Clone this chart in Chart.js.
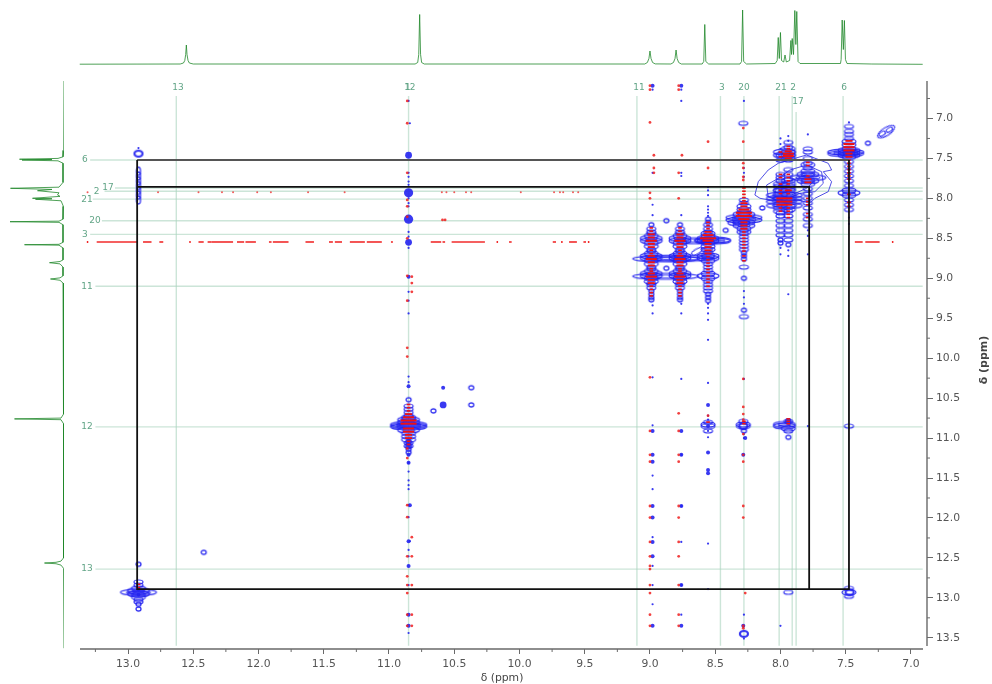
<!DOCTYPE html>
<html><head><meta charset="utf-8">
<script src="https://cdn.jsdelivr.net/npm/chart.js@4"></script>
<style>html,body{margin:0;padding:0;background:#fff}canvas{position:absolute;left:0;top:0}</style>
</head><body>
<canvas id="top" width="992" height="684"></canvas>
<canvas id="left" width="992" height="684"></canvas>
<canvas id="main" width="992" height="684"></canvas>
<script>
// ---------- axis ticks ----------
const xMajor=[7,7.5,8,8.5,9,9.5,10,10.5,11,11.5,12,12.5,13];
const xMinor=[7.25,7.75,8.25,8.75,9.25,9.75,10.25,10.75,11.25,11.75,12.25,12.75,13.25];
const yMajor=[7,7.5,8,8.5,9,9.5,10,10.5,11,11.5,12,12.5,13,13.5];
const yMinor=[6.75,7.25,7.75,8.25,8.75,9.25,9.75,10.25,10.75,11.25,11.75,12.25,12.75,13.25];
// ---------- 1D projections ----------
const topSpectrum=[[13.37,.3],[12.6,.5],[12.575,1.5],[12.565,4],[12.558,10],[12.553,19.5],[12.548,10],[12.54,4],[12.53,1.5],[12.5,.5],[10.8,.5],[10.78,2],[10.772,10],[10.765,50],[10.758,10],[10.75,2],[10.73,.5],[9.04,.5],[9.02,2],[9.008,6],[9,13.5],[8.992,6],[8.98,2],[8.96,.6],[8.84,.5],[8.82,2],[8.808,6],[8.8,14.5],[8.792,6],[8.78,2],[8.76,.5],[8.6,.5],[8.588,3],[8.58,40],[8.572,3],[8.55,.5],[8.31,.5],[8.298,3],[8.29,54.5],[8.282,3],[8.26,.5],[8.04,1],[8.025,4],[8.017,27],[8.009,6],[8,32],[7.992,4],[7.975,2.5],[7.965,9.5],[7.955,2.5],[7.93,4],[7.92,24],[7.915,10],[7.91,26],[7.9,10],[7.89,54],[7.882,20],[7.875,53],[7.865,3],[7.85,1],[7.54,1],[7.535,5],[7.527,44.5],[7.518,15],[7.51,44],[7.502,5],[7.49,1],[7.3,.5],[6.91,.2]];
const leftSpectrum=[[6.53,0],[7.4,.3],[7.48,1],[7.5,6],[7.51,44.5],[7.515,12],[7.52,42],[7.53,6],[7.56,1],[7.8,1],[7.86,5],[7.874,53.5],[7.888,12],[7.904,26.5],[7.93,5],[7.957,6.5],[7.975,4],[7.999,31.5],[8.005,12],[8.011,28.5],[8.03,3],[8.1,.6],[8.26,1],[8.285,5],[8.292,54],[8.3,5],[8.33,1],[8.55,1],[8.575,5],[8.58,39.5],[8.586,5],[8.62,1],[8.77,1],[8.79,4],[8.805,14.5],[8.82,4],[8.86,1],[8.97,1],[8.995,4],[9.009,13.5],[9.025,4],[9.06,1],[10.7,.5],[10.75,3],[10.76,49.5],[10.77,3],[10.82,.5],[12.5,.5],[12.54,3],[12.555,8],[12.564,19.5],[12.573,8],[12.59,3],[12.63,.5],[13.63,0]];
// ---------- assignment guides ----------
const vGuideX=[12.63,10.85,9.10,8.46,8.28,8.01,7.91,7.88,7.52];
const vGuideStart=[6.72,6.72,6.72,6.72,6.72,6.72,6.72,6.92,6.72];
const hGuideY=[7.52,7.87,7.91,8.01,8.28,8.45,9.10,10.86,12.64];
const hGuideStart=[13.29,13.10,13.18,13.27,13.20,13.29,13.25,13.25,13.25];
const guideEndY=13.60, guideEndX=6.91;
const vLabels=[['13',12.617,6.62],['12',10.84,6.62],['1',10.855,6.62],['11',9.085,6.62],['3',8.45,6.62],['20',8.28,6.62],['21',7.996,6.62],['2',7.904,6.62],['17',7.866,6.793],['6',7.513,6.62]];
const hLabels=[['6',13.33,7.51],['17',13.153,7.87],['2',13.24,7.91],['21',13.314,8.01],['20',13.253,8.28],['3',13.33,8.45],['11',13.314,9.10],['12',13.314,10.86],['13',13.314,12.64]];
// ---------- black correlation lines ----------
const darkLine=[[12.93,7.52],[7.475,7.52]];
const blackLineA=[[12.93,7.855],[7.78,7.855],[7.78,12.89]];
const blackLineB=[[12.93,7.52],[12.93,12.89],[7.475,12.89],[7.475,7.52]];
// ---------- t1 noise streaks: [from, to] in F2 ppm ----------
const streak854=[[13.24,12.93],[12.885,12.82],[12.76,12.73],[12.46,12.42],[12.39,12.36],[12.36,12.195],[12.165,12.11],[12.10,12.02],[11.92,11.90],[11.89,11.77],[11.64,11.575],[11.46,11.43],[11.415,11.36],[11.30,11.185],[11.17,11.055],[10.985,10.97],[10.68,10.60],[10.59,10.57],[10.52,10.265],[10.08,10.06],[9.745,9.72],[9.62,9.56],[9.51,9.49],[7.43,7.37],[7.35,7.24]];
const streak854Dots=[13.31,12.525,10.17,9.675,9.47,7.14];
const streak792Dots=[13.31,12.77,12.46,12.28,12.195,12.01,11.905,11.62,11.34,10.595,10.56,10.50,10.41,10.37,9.99,9.735,9.69,9.665,9.59,9.55];
// ---------- red contour dashes: [F2, [F1...]] ----------
const redWide=[[8.555,[8.50]],[8.28,[8.18,8.22]],[7.97,[8.0,8.04,8.08]],[10.85,[10.78,10.82]]];
const redLong=[[8.99,[8.53,8.76,8.98]],[8.77,[8.53,8.76,8.98]],[8.555,[8.46,8.53]],[8.28,[8.14,8.26]],[7.94,[7.44,7.47]],[7.475,[7.32,7.36,7.40]],[10.85,[10.74,10.88,10.92]]];
const redMid=[[8.99,[8.45,8.49,8.57,8.61,8.72,8.80,8.84,8.94,9.02,9.06]],[8.77,[8.45,8.49,8.57,8.61,8.72,8.80,8.84,8.94,9.02,9.06]],[8.555,[8.42,8.57,8.61,8.65,8.69]],[8.28,[8.06,8.10,8.30,8.34,8.38]],[7.94,[7.41,7.50,7.86,7.90]],[7.79,[7.76,7.80]],[7.475,[7.28,7.44,7.48]],[10.85,[10.70,10.96,11.0]]];
const redShort=[[8.99,[8.37,8.41,8.65,8.69,8.88,8.91,9.10,9.14,9.18,9.22]],[8.77,[8.37,8.41,8.65,8.69,8.88,8.91,9.10,9.14,9.18,9.22]],[8.555,[8.30,8.34,8.38,8.73,8.77,8.81,8.85,8.89,8.93,8.97,9.01,9.05,9.10]],[8.28,[7.87,7.91,7.95,7.99,8.03,8.42,8.46,8.50,8.54,8.58,8.62,8.66,8.72,8.78]],[7.94,[7.35,7.38,7.70,7.74,7.78,7.82,7.94,8.12,8.16,8.20,8.24]],[8.0,[7.42,7.48,7.70,7.74,7.82,7.86,7.90,7.94,8.12,8.16]],[7.79,[7.55,7.59,7.72,8.0,8.04,8.08,8.19,8.24]],[7.475,[7.52,7.56,7.60,7.64,7.68,7.72,7.76,7.95,8.05,8.10]],[10.85,[10.58,10.62,10.66,11.04,11.08]],[12.92,[12.83,12.87]],[8.555,[10.80]],[8.28,[10.79,10.82]],[7.94,[10.76,10.79,10.82]]];
const redDot=[[9.0,[6.59,6.64,7.05,7.93,8.0,10.24,10.91,11.21,11.295,11.85,11.995,12.30,12.48,12.60,12.64,12.84,12.94,13.21,13.35]],[8.97,[7.46,7.62,7.68]],[8.78,[6.59,6.64,7.68,8.0,10.69,10.91,11.21,11.295,11.85,11.995,12.30,12.48,12.84,13.21,13.35]],[8.755,[7.46]],[8.555,[7.29,7.62,10.72]],[8.285,[7.12,7.29,7.56,7.62,7.73,7.77,10.26,10.61,10.70,10.77,10.95,11.21,11.295,11.85,11.995,13.35,13.38]],[8.27,[12.94]],[10.86,[6.78,7.06,7.68,8.02,8.10,8.23,8.50,8.97,9.28,9.87,9.98,11.13,11.25,11.84,11.99,12.48,12.73,12.84,12.94,13.21,13.35]],[10.825,[8.98,9.06,9.17,12.24,12.48,12.84,13.21,13.35]],[10.57,[8.27]],[10.59,[8.27]]];
// ---------- blue contour rings by shape: [F2, [F1...]] ----------
const ringXL=[[8.88,[8.755,8.975]],[8.77,[8.75]]];
const ringL=[[8.28,[8.27,8.24]],[10.85,[10.845,10.86,10.83]],[8.52,[8.535,8.52]],[7.50,[7.44,7.42]],[8.66,[8.53]],[7.97,[7.96,8.0,8.04,8.09]],[12.92,[12.93]],[7.79,[7.74]]];
const ringM=[[8.99,[8.75,8.97,8.53,8.50,8.72,8.94]],[8.77,[8.75,8.97,8.53,8.50,8.72,8.94]],[8.555,[8.53,8.75,8.97,8.50,8.72]],[8.28,[8.20,8.30,8.34]],[7.79,[7.70,7.78]],[7.475,[7.40,7.43,7.46,7.93]],[10.85,[10.80,10.90,10.77]],[12.92,[12.91,12.95]],[7.97,[7.46,7.42,7.85,7.90,10.85,10.83]],[8.32,[8.305]]];
const ringS=[[8.99,[8.47,8.56,8.60,8.69,8.78,8.82,8.91,9.0,9.04]],[8.77,[8.47,8.56,8.60,8.69,8.78,8.82,8.91,9.0,9.04]],[8.555,[8.44,8.47,8.56,8.60,8.64,8.72,8.78,8.94,9.0]],[8.28,[8.10,8.14,8.18,8.38,8.42]],[8.0,[7.82,7.90,7.95,8.0,8.08,8.12,8.16]],[7.94,[7.38,7.42,7.46,7.50,7.78,7.82,7.88,7.95,8.02,8.10,8.14]],[7.79,[7.66,7.70,7.78,7.82,7.58]],[7.475,[7.29,7.33,7.38,7.48,7.90,7.96]],[10.85,[10.74,10.76,10.94,10.98,11.02]],[12.92,[12.88,12.96,12.99]],[8.285,[10.85,10.83]],[8.555,[10.85,10.83]],[7.475,[12.93]],[7.94,[10.88]]];
const ringXS=[[8.99,[8.38,8.42,8.44,8.64,8.66,8.86,8.88,9.06,9.08,9.12]],[8.77,[8.38,8.42,8.44,8.64,8.66,8.86,8.88,9.06,9.08,9.12]],[8.555,[8.33,8.38,8.42,8.64,8.68,8.82,8.86,8.90,9.04,9.08,9.12,9.16]],[8.28,[8.02,8.06,8.40,8.44,8.48,8.52,8.56,8.60,8.64,8.86,9.48]],[8.0,[7.46,7.52,7.70,7.74,7.78,8.18,8.22,8.28,8.34,8.40,8.46]],[7.94,[7.30,7.36,7.52,7.64,7.70,7.76,8.16,8.22,8.28,8.34,8.40,8.46,8.52]],[7.79,[7.38,7.42,7.50,7.56,7.62,7.88,7.94,8.0,8.06,8.12,8.20,8.26,8.34]],[7.475,[7.10,7.16,7.20,7.25,7.54,7.60,7.66,7.72,7.78,7.84,8.02,8.08,8.14]],[10.85,[10.60,10.64,10.68,10.72,11.06,11.10]],[12.92,[12.80,12.84,13.02,13.05]],[8.285,[7.06,10.79]],[7.94,[10.79,10.91,12.93]],[7.475,[10.85,12.88,12.98]],[8.555,[10.80,10.91]]];
const ringT=[[8.99,[8.33,9.16,9.20,9.24,9.27]],[8.77,[8.33,9.16,9.20,9.24,9.27]],[8.555,[8.26,8.30,9.20,9.24,9.28]],[8.28,[8.68,8.72,8.76,9.0,9.4]],[12.92,[12.58,13.08,13.14]],[10.85,[10.52,11.14,11.18]],[8.0,[8.52,8.56]],[7.94,[8.58]],[7.94,[10.99]],[8.28,[10.91]],[10.37,[10.37,10.585]],[10.66,[10.66]],[12.42,[12.43]],[8.875,[8.28,8.875]],[8.42,[8.40]],[8.14,[8.12]],[7.33,[7.31]]];
const chainRings=[[12.92,[7.66,7.72,7.78,7.84,7.90,7.96,8.02]]];
const thickRings=[[12.92,[7.44]],[7.47,[12.93]],[8.28,[13.45]],[8.285,[10.85]]];
const diagonalRings=[[7.19,[7.165]]];
const diagonalInner=[[7.22,[7.19]],[7.165,[7.14]]];
const sideRings=[[8.64,[8.665]]];
// ---------- filled blue spots: [F2, [F1...]] ----------
const blueSmall=[[8.98,[6.64,7.68,8.08,8.21,9.34,9.44,10.24,10.84,11.47,11.64,12.24,12.60,12.84,13.08]],[8.76,[6.64,6.78,7.68,7.72,8.21,9.32,9.44,10.26,11.21,11.85,12.30,12.84,13.21]],[8.555,[7.86,7.90,7.96,8.10,8.14,8.18,8.22,9.32,9.37,9.44,9.52,9.77,10.31,10.72,10.77,10.91,10.99,12.32,12.89]],[8.28,[6.78,7.62,7.68,7.73,9.16,9.24,9.32,10.26,10.95,11.0,13.21,13.51]],[7.94,[7.28,7.22,8.65,8.72,9.20]],[8.0,[7.25,7.32,7.38,8.62,8.70,13.35]],[7.79,[7.20,8.40,8.47,8.70,10.85]],[7.475,[7.05,8.24,8.32]],[10.85,[6.78,7.68,7.73,7.79,7.83,8.0,8.06,8.10,8.42,8.48,8.62,9.17,9.28,9.44,10.23,10.30,11.31,11.42,11.53,11.59,11.64,11.84,11.99,12.40,12.48,12.84,13.44]],[10.84,[7.06,12.29]],[12.92,[7.37]]];
const blueMedium=[[8.98,[6.59,10.91,11.21,11.295,11.85,11.995,12.30,12.48,13.35]],[8.76,[6.59,10.91,11.21,11.85,12.84,13.35]],[8.555,[10.585,11.18,11.40,11.44,10.85]],[8.285,[13.35,11.21]],[8.27,[11.0]],[10.85,[8.98,10.35,12.29,12.60,13.21,13.35,11.21,11.31]],[10.84,[11.84]],[8.0,[7.84]],[10.585,[10.37]],[12.92,[12.90,12.96]]];
const blueLarge=[[10.85,[7.46,8.55,11.05,11.1]],[10.585,[10.585]],[7.94,[10.79]]];
const blueHuge=[[10.85,[7.93,8.26]]];
// ---------- irregular diagonal contours: [F2, F1] ----------
const contourOuter=[[8.196,7.958],[8.170,7.791],[8.094,7.645],[8.017,7.561],[7.915,7.511],[7.800,7.457],[7.634,7.561],[7.608,7.645],[7.672,7.666],[7.608,7.791],[7.634,7.916],[7.736,7.999],[7.774,8.062],[7.864,8.020],[8.017,8.041],[8.157,7.999],[8.196,7.958]];
const contourMiddle=[[8.094,7.979],[8.106,7.833],[8.017,7.749],[7.928,7.645],[7.800,7.582],[7.685,7.666],[7.672,7.812],[7.736,7.916],[7.851,7.937],[7.940,7.999],[8.030,8.020],[8.094,7.979]];
const contourInner=[[8.043,7.958],[8.030,7.853],[7.940,7.791],[7.800,7.707],[7.749,7.791],[7.800,7.874],[7.915,7.958],[8.043,7.958]];

// ---------- rendering helpers ----------
const FONT='"DejaVu Sans"';
const BLUE='rgba(34,34,240,0.92)';
const RED='#f01212';
const AXIS='#6a6a6a';
const GUIDE='rgba(170,212,190,0.6)';
const TXT='rgb(98,165,135)';
const X_MIN=6.877,X_MAX=13.368,Y_MIN=6.531,Y_MAX=13.64;
const flat=c=>c.flatMap(([x,ys])=>ys.map(y=>({x,y})));
const pts=a=>a.map(([x,y])=>({x,y}));
function ell(w,h,lw){
  const c=document.createElement('canvas');c.width=w+4;c.height=h+4;
  const g=c.getContext('2d');g.strokeStyle=BLUE;g.lineWidth=lw||1.15;
  g.beginPath();g.ellipse((w+4)/2,(h+4)/2,w/2,h/2,0,0,Math.PI*2);g.stroke();return c;
}
const ds=[];
const add=o=>{o.order=-ds.length;ds.push(o);};
const line=(data,color,w)=>add({type:'scatter',data,showLine:true,pointRadius:0,borderColor:color,borderWidth:w,tension:0,spanGaps:false,fill:false});
vGuideX.forEach((x,i)=>line(pts([[x,vGuideStart[i]],[x,guideEndY]]),GUIDE,1.4));
hGuideY.forEach((y,i)=>line(pts([[hGuideStart[i],y],[guideEndX,y]]),GUIDE,1.4));
streak854.forEach(s=>line(pts([[s[0],8.546],[s[1],8.546]]),'rgba(240,20,20,.9)',1.6));
const redScatter=(cols,r,bw)=>add({type:'scatter',data:flat(cols),pointStyle:'line',pointRadius:r,pointBorderWidth:bw,pointBorderColor:RED,pointBackgroundColor:RED});
add({type:'scatter',data:streak854Dots.map(x=>({x,y:8.546})),pointRadius:.9,pointBackgroundColor:RED,pointBorderWidth:0});
add({type:'scatter',data:streak792Dots.map(x=>({x,y:7.924})),pointRadius:1,pointBackgroundColor:'rgba(240,20,20,.7)',pointBorderWidth:0});
[contourOuter,contourMiddle,contourInner].forEach(c=>line(pts(c),'rgba(50,50,225,.85)',1));
const ringSet=(cols,img,rot)=>add({type:'scatter',data:flat(cols),pointStyle:img,pointRotation:rot||0,pointRadius:4});
ringSet(ringXL,ell(66,6));ringSet(ringXL,ell(40,3));
ringSet(ringL,ell(36,6));ringSet(ringL,ell(24,3));
ringSet(ringM,ell(22,6));ringSet(ringM,ell(12,3));
ringSet(ringS,ell(14,5));ringSet(ringXS,ell(9,4));ringSet(ringT,ell(5,4,1.3));
ringSet(chainRings,ell(4,8,1.3));ringSet(thickRings,ell(8,6,2.2));
ringSet(diagonalRings,ell(20,8,1.1),-33);ringSet(diagonalInner,ell(7,4),-33);ringSet(sideRings,ell(12,5),-30);
const filled=(cols,r)=>add({type:'scatter',data:flat(cols),pointRadius:r,pointBackgroundColor:'rgba(35,35,240,.9)',pointBorderWidth:0});
filled(blueSmall,1.1);filled(blueMedium,2);filled(blueLarge,3.4);filled(blueHuge,4.6);
redScatter(redWide,8,2);redScatter(redLong,5.5,2);redScatter(redMid,3.5,1.8);redScatter(redShort,1.8,1.6);
add({type:'scatter',data:flat(redDot),pointRadius:1.4,pointBackgroundColor:'rgba(240,30,30,.85)',pointBorderWidth:0});
line(pts(darkLine),'#555',2);line(pts(blackLineA),'#111',1.8);line(pts(blackLineB),'#111',1.8);

const decor={id:'decor',afterDraw(ch){
  const{ctx,scales:{x,y}}=ch;ctx.save();
  ctx.strokeStyle=AXIS;ctx.lineWidth=1.4;
  const b=y.getPixelForValue(Y_MAX),r=x.getPixelForValue(X_MIN);
  ctx.beginPath();ctx.moveTo(80,b);ctx.lineTo(923,b);ctx.moveTo(r,81);ctx.lineTo(r,646);ctx.stroke();
  ctx.lineWidth=1;ctx.beginPath();
  xMinor.forEach(v=>{const p=x.getPixelForValue(v);ctx.moveTo(p,b);ctx.lineTo(p,b+3);});
  yMinor.forEach(v=>{const p=y.getPixelForValue(v);ctx.moveTo(r,p);ctx.lineTo(r+3,p);});
  ctx.stroke();
  ctx.fillStyle=TXT;ctx.font='9px '+FONT;ctx.textAlign='center';ctx.textBaseline='middle';
  vLabels.concat(hLabels).forEach(([t,a,c])=>ctx.fillText(t,x.getPixelForValue(a),y.getPixelForValue(c)));
  ctx.fillStyle='#444';ctx.font='10.8px '+FONT;ctx.fillText('δ (ppm)',502,678);
  ctx.translate(984,360);ctx.rotate(-Math.PI/2);ctx.font='600 11px '+FONT;ctx.fillText('δ (ppm)',0,0);
  ctx.restore();
}};
new Chart(document.getElementById('main'),{type:'scatter',data:{datasets:ds},plugins:[decor],options:{
  responsive:false,animation:false,events:[],
  layout:{padding:{left:80,top:81,right:0,bottom:0}},
  plugins:{legend:{display:false},tooltip:{enabled:false},title:{display:false}},
  scales:{
    x:{type:'linear',reverse:true,min:X_MIN,max:X_MAX,position:'bottom',
      afterBuildTicks:s=>{s.ticks=xMajor.map(value=>({value}));},
      afterFit:s=>{s.height=35;},
      border:{display:false},grid:{drawOnChartArea:false,drawTicks:true,tickLength:5,color:AXIS,tickColor:AXIS},
      ticks:{font:{family:FONT,size:10.8},color:'#555',padding:4,autoSkip:false,maxRotation:0,callback:v=>v.toFixed(1)}},
    y:{type:'linear',reverse:true,min:Y_MIN,max:Y_MAX,position:'right',
      afterBuildTicks:s=>{s.ticks=yMajor.map(value=>({value}));},
      afterFit:s=>{s.width=65;},
      border:{display:false},grid:{drawOnChartArea:false,drawTicks:true,tickLength:6,color:AXIS,tickColor:AXIS},
      ticks:{font:{family:FONT,size:10.8},color:'#555',padding:3,autoSkip:false,callback:v=>v.toFixed(1)}}
  }}});
const LINE1D='rgba(30,135,40,.78)';
new Chart(document.getElementById('top'),{type:'scatter',data:{datasets:[{data:pts(topSpectrum),showLine:true,pointRadius:0,borderColor:LINE1D,borderWidth:1,tension:0}]},options:{
  responsive:false,animation:false,events:[],clip:false,
  layout:{padding:{left:80,right:65,top:0,bottom:619.5}},
  plugins:{legend:{display:false},tooltip:{enabled:false}},
  scales:{x:{display:false,type:'linear',reverse:true,min:X_MIN,max:X_MAX},y:{display:false,type:'linear',min:0,max:64.5}}}});
new Chart(document.getElementById('left'),{type:'scatter',data:{datasets:[{data:leftSpectrum.map(([y,x])=>({x,y})),showLine:true,pointRadius:0,borderColor:LINE1D,borderWidth:1,tension:0}]},options:{
  responsive:false,animation:false,events:[],
  layout:{padding:{left:0,right:928,top:81,bottom:35}},
  plugins:{legend:{display:false},tooltip:{enabled:false}},
  scales:{x:{display:false,type:'linear',reverse:true,min:0,max:64},y:{display:false,type:'linear',reverse:true,min:Y_MIN,max:Y_MAX}}}});
</script>
</body></html>
